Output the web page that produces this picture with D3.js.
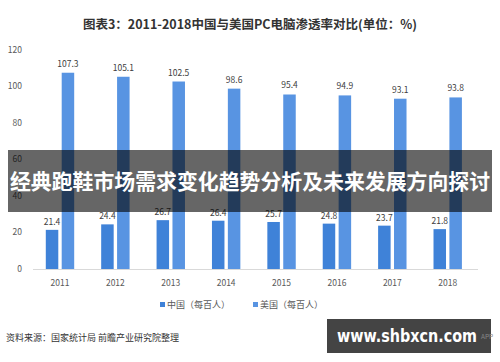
<!DOCTYPE html>
<html><head><meta charset="utf-8">
<script src="https://cdn.jsdelivr.net/npm/d3@7"></script>
<style>body{margin:0;background:#fff}svg{display:block}</style>
</head><body>
<script>
const years = ["2011","2012","2013","2014","2015","2016","2017","2018"];
const china = [21.4,24.4,26.7,26.4,25.7,24.8,23.7,21.8];
const usa = [107.3,105.1,102.5,98.6,95.4,94.9,93.1,93.8];
const yTicks = [0,20,40,60,80,100,120];
const seriesNames = ["中国（每百人）","美国（每百人）"];
const colors = ["#3f82d8","#5894e2"];

const W=500,H=362;
const svg=d3.select("body").append("svg").attr("width",W).attr("height",H);
const font="'Microsoft YaHei','Noto Sans CJK SC',sans-serif";

svg.append("text").attr("x",250).attr("y",29).attr("text-anchor","middle")
  .attr("font-family",font).attr("font-weight","bold").attr("font-size",12.5).attr("fill","#333")
  .text("图表3：2011-2018中国与美国PC电脑渗透率对比(单位：%)");

const x=d3.scaleBand().domain(years).range([32.3,475.4]);
const y=d3.scaleLinear().domain([0,120]).range([269,49.5]);
const bw=12.5, gap=3.4;

// y tick labels
svg.append("g").selectAll("text").data(yTicks).join("text")
  .attr("x",22).attr("y",d=>y(d)+3).attr("text-anchor","end")
  .attr("font-family",font).attr("font-size",8.5).attr("fill","#595959").text(d=>d);

// axis line
svg.append("line").attr("x1",33).attr("x2",478).attr("y1",y(0)+0.5).attr("y2",y(0)+0.5)
  .attr("stroke","#d9d9d9").attr("stroke-width",1);

const cx=d=>x(d)+x.bandwidth()/2;
// bars
svg.append("g").selectAll("rect").data(years).join("rect")
  .attr("x",(d)=>cx(d)-gap/2-bw).attr("width",bw)
  .attr("y",(d,i)=>y(china[i])).attr("height",(d,i)=>y(0)-y(china[i])).attr("fill",colors[0]);
svg.append("g").selectAll("rect").data(years).join("rect")
  .attr("x",(d)=>cx(d)+gap/2).attr("width",bw)
  .attr("y",(d,i)=>y(usa[i])).attr("height",(d,i)=>y(0)-y(usa[i])).attr("fill",colors[1]);

// value labels
svg.append("g").selectAll("text").data(years).join("text")
  .attr("x",d=>cx(d)-gap/2-bw/2).attr("y",(d,i)=>y(china[i])-5).attr("text-anchor","middle")
  .attr("font-family",font).attr("font-size",8.5).attr("fill","#404040").text((d,i)=>china[i].toFixed(1));
svg.append("g").selectAll("text").data(years).join("text")
  .attr("x",d=>cx(d)+gap/2+bw/2).attr("y",(d,i)=>y(usa[i])-6).attr("text-anchor","middle")
  .attr("font-family",font).attr("font-size",8.5).attr("fill","#404040").text((d,i)=>usa[i].toFixed(1));

// x labels
svg.append("g").selectAll("text").data(years).join("text")
  .attr("x",d=>cx(d)).attr("y",286).attr("text-anchor","middle")
  .attr("font-family",font).attr("font-size",8.5).attr("fill","#595959").text(d=>d);

// legend
const lg=[160,253];
seriesNames.forEach((n,i)=>{
  svg.append("rect").attr("x",lg[i]).attr("y",302).attr("width",5).attr("height",5).attr("fill",colors[i]);
  svg.append("text").attr("x",lg[i]+7).attr("y",308).attr("font-family",font).attr("font-size",9)
    .attr("fill","#595959").text(n);
});

// source
svg.append("text").attr("x",6).attr("y",341).attr("font-family",font).attr("font-size",9)
  .attr("fill","#333").text("资料来源：国家统计局 前瞻产业研究院整理");

// overlay banner
svg.append("rect").attr("x",8).attr("y",150).attr("width",484).attr("height",62).attr("fill","rgba(0,0,0,0.6)");
svg.append("text").attr("x",10).attr("y",189)
  .attr("font-family",font).attr("font-weight","bold").attr("font-size",21).attr("fill","#fff")
  .attr("textLength",480).attr("lengthAdjust","spacingAndGlyphs")
  .text("经典跑鞋市场需求变化趋势分析及未来发展方向探讨");

// watermark box
svg.append("rect").attr("x",327).attr("y",319).attr("width",164).attr("height",34).attr("fill","#444");
svg.append("text").attr("x",337).attr("y",342)
  .attr("font-family","'DejaVu Sans',sans-serif").attr("font-weight","bold").attr("font-size",17).attr("fill","#fff")
  .attr("textLength",140).attr("lengthAdjust","spacingAndGlyphs")
  .text("www.shbxcn.com");
svg.append("text").attr("x",481).attr("y",339).attr("font-family",font).attr("font-size",6.5)
  .attr("fill","#888").text("APP");
</script>
</body></html>
